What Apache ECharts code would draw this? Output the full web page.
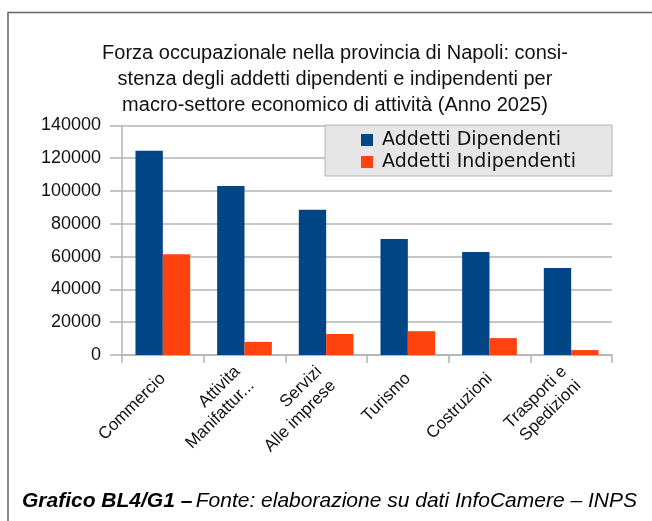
<!DOCTYPE html>
<html lang="it">
<head>
<meta charset="utf-8">
<title>Forza occupazionale Napoli</title>
<script src="https://cdn.jsdelivr.net/npm/echarts@6/dist/echarts.min.js"></script>
<style type="text/css">
	html, body { margin: 0; padding: 0; background: #fff; }
	/* area del grafico */
	#chart { width: 652px; height: 521px; }
</style>
</head>
<body>
<div id="chart"></div>
<script type="text/javascript">
	// dati
	var settori = ['Commercio', 'Attivita\nManifattur...', 'Servizi\nAlle imprese', 'Turismo', 'Costruzioni', 'Trasporti e\nSpedizioni'];
	var dipendenti = [124500, 103000, 88500, 70700, 62800, 53000];
	var indipendenti = [61500, 8000, 12800, 14500, 10300, 3000];
	var serie = ['Addetti Dipendenti', 'Addetti Indipendenti'];

	var font = '"Liberation Sans", Arial, sans-serif';
	var grigio = '#b3b3b3';

	var chart = echarts.init(document.getElementById('chart'));
	chart.setOption({
		animation: false,
		color: ['#004586', '#ff420e'],
		title: {
			text: 'Forza occupazionale nella provincia di Napoli: consi-\nstenza degli addetti dipendenti e indipendenti per\nmacro-settore economico di attività (Anno 2025)',
			left: 330,
			top: 35,
			textAlign: 'center',
			textStyle: {
				fontFamily: font,
				fontSize: 20,
				fontWeight: 'normal',
				color: '#111',
				lineHeight: 26
			}
		},
		legend: {
			data: serie,
			orient: 'vertical',
			left: 325,
			top: 125,
			width: 287,
			padding: [4, 36, 3, 36],
			itemGap: 0,
			itemWidth: 12,
			itemHeight: 12,
			icon: 'rect',
			backgroundColor: '#e6e6e6',
			borderColor: grigio,
			borderWidth: 1,
			textStyle: {
				fontFamily: '"DejaVu Sans", sans-serif',
				fontSize: 19,
				color: '#111',
				lineHeight: 22,
				padding: [0, 0, 0, 4]
			}
		},
		grid: {
			left: 122,
			right: 40,
			top: 125.4,
			bottom: 166,
			containLabel: false
		},
		xAxis: {
			type: 'category',
			data: settori,
			axisLine: { lineStyle: { color: grigio, width: 1.5 } },
			axisTick: { show: true, length: 8, lineStyle: { color: grigio, width: 1.5 } },
			axisLabel: {
				interval: 0,
				rotate: 45,
				margin: 21,
				fontFamily: font,
				fontSize: 17,
				color: '#111',
				lineHeight: 20
			}
		},
		yAxis: {
			type: 'value',
			min: 0,
			max: 140000,
			interval: 20000,
			axisLine: { show: true, lineStyle: { color: grigio, width: 1.5 } },
			axisTick: { show: true, length: 12, lineStyle: { color: grigio, width: 1.5 } },
			splitLine: { lineStyle: { color: grigio, width: 1.5 } },
			axisLabel: {
				margin: 21,
				fontFamily: font,
				fontSize: 18,
				color: '#111',
				formatter: function (v) { return String(v); }
			}
		},
		series: [{
			name: serie[0],
			type: 'bar',
			data: dipendenti,
			barGap: '0%',
			barCategoryGap: '33%'
		}, {
			name: serie[1],
			type: 'bar',
			data: indipendenti
		}],
		graphic: [{
			// cornice
			type: 'polyline',
			shape: { points: [[8, 521], [8, 12.5], [652, 12.5]] },
			style: { stroke: '#666', lineWidth: 1.5, fill: null }
		}, {
			type: 'text',
			left: 22,
			top: 491,
			style: {
				text: '{b|Grafico BL4/G1 –} {i|Fonte: elaborazione su dati InfoCamere – INPS}',
				rich: {
					b: { fontFamily: font, fontSize: 21, fontWeight: 'bold', fontStyle: 'italic', fill: '#000' },
					i: { fontFamily: font, fontSize: 21, fontStyle: 'italic', fill: '#000' }
				}
			}
		}]
	});
</script>
</body>
</html>
